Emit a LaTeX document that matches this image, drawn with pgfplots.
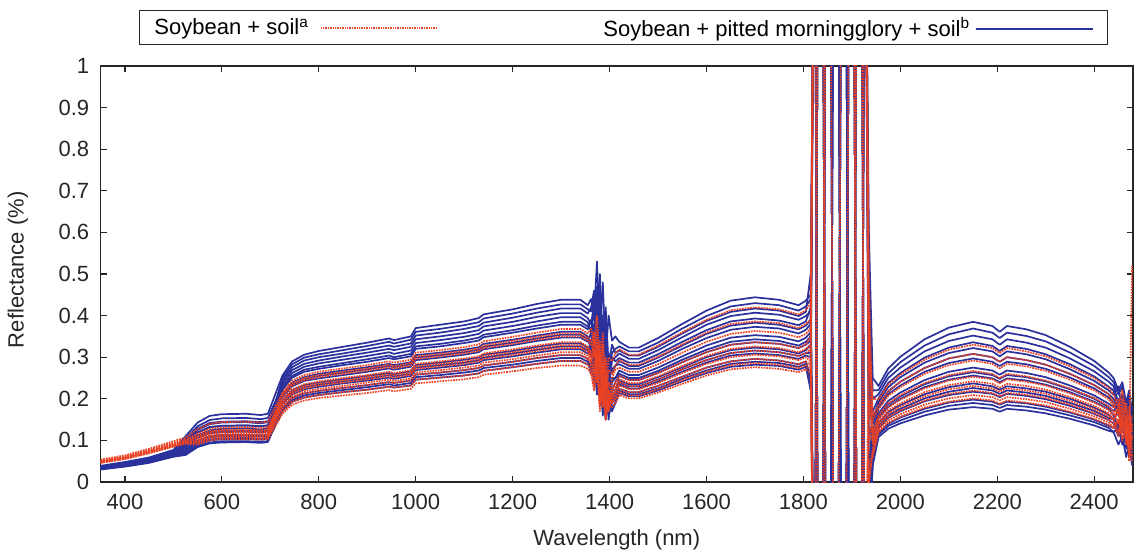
\documentclass[border=0pt]{standalone}
\usepackage{fontspec}
\setmainfont{Liberation Sans}
\usepackage{pgfplots}
\usepackage{pgfplotstable}
\pgfplotsset{compat=1.18}
\definecolor{redA}{RGB}{236,66,36}
\definecolor{blueA}{RGB}{42,48,156}
\newcommand{\redsample}{\textcolor{redA}{\leaders\hbox to 2.4pt{\hss\rule[0.28em]{1.5pt}{1.7pt}\hss}\hskip 120pt}}
\newcommand{\bluesample}{\textcolor{blueA}{\rule[0.3em]{117pt}{1.6pt}}}
\pgfplotstableread{
x b1 b2 b3 b4 b5 b6 b7 b8 b9 b10
350 0.039 0.035 0.037 0.033 0.036 0.031 0.034 0.030 0.032 0.031
400 0.048 0.044 0.046 0.041 0.045 0.039 0.042 0.037 0.040 0.038
450 0.059 0.054 0.057 0.051 0.055 0.048 0.053 0.046 0.050 0.047
500 0.077 0.070 0.075 0.067 0.072 0.063 0.069 0.061 0.065 0.061
525 0.110 0.092 0.104 0.082 0.097 0.070 0.087 0.065 0.077 0.066
550 0.143 0.119 0.134 0.106 0.125 0.090 0.112 0.084 0.099 0.086
575 0.159 0.132 0.149 0.117 0.139 0.100 0.124 0.093 0.110 0.095
600 0.163 0.135 0.153 0.120 0.143 0.103 0.128 0.095 0.113 0.098
650 0.164 0.136 0.154 0.121 0.144 0.103 0.129 0.096 0.113 0.098
680 0.161 0.134 0.151 0.119 0.141 0.102 0.126 0.094 0.112 0.097
695 0.164 0.136 0.154 0.121 0.144 0.103 0.129 0.096 0.113 0.098
710 0.210 0.190 0.193 0.171 0.178 0.153 0.162 0.141 0.146 0.134
725 0.256 0.244 0.232 0.221 0.211 0.203 0.195 0.187 0.178 0.170
745 0.290 0.276 0.262 0.251 0.239 0.230 0.220 0.211 0.202 0.193
770 0.306 0.292 0.277 0.265 0.252 0.243 0.233 0.223 0.213 0.203
800 0.315 0.300 0.285 0.272 0.260 0.249 0.239 0.229 0.219 0.209
850 0.325 0.309 0.294 0.281 0.268 0.257 0.247 0.237 0.226 0.216
900 0.335 0.319 0.303 0.289 0.276 0.265 0.255 0.244 0.233 0.222
945 0.345 0.328 0.312 0.298 0.284 0.273 0.262 0.251 0.240 0.229
955 0.341 0.325 0.308 0.295 0.281 0.270 0.259 0.248 0.238 0.227
990 0.350 0.333 0.316 0.302 0.288 0.277 0.266 0.255 0.244 0.232
1000 0.370 0.352 0.334 0.320 0.305 0.293 0.281 0.269 0.258 0.246
1050 0.378 0.359 0.341 0.326 0.311 0.299 0.287 0.275 0.263 0.251
1100 0.386 0.368 0.349 0.334 0.318 0.306 0.294 0.281 0.269 0.256
1130 0.394 0.375 0.356 0.340 0.324 0.312 0.299 0.287 0.274 0.261
1140 0.403 0.383 0.364 0.348 0.332 0.319 0.306 0.293 0.280 0.267
1200 0.415 0.395 0.375 0.359 0.342 0.329 0.315 0.302 0.289 0.276
1250 0.428 0.407 0.386 0.369 0.352 0.339 0.325 0.311 0.298 0.284
1300 0.438 0.417 0.396 0.378 0.361 0.347 0.333 0.319 0.305 0.291
1340 0.438 0.417 0.396 0.378 0.361 0.347 0.333 0.319 0.305 0.291
1355 0.425 0.405 0.384 0.367 0.350 0.337 0.323 0.309 0.296 0.282
1362 0.44 0.42 0.36 0.39 0.33 0.36 0.30 0.32 0.27 0.29
1368 0.40 0.46 0.41 0.33 0.38 0.30 0.35 0.27 0.31 0.24
1374 0.53 0.38 0.33 0.47 0.29 0.42 0.26 0.36 0.23 0.31
1380 0.36 0.50 0.45 0.30 0.41 0.26 0.38 0.22 0.33 0.19
1386 0.48 0.33 0.27 0.40 0.24 0.35 0.20 0.30 0.17 0.26
1392 0.30 0.42 0.38 0.20 0.33 0.16 0.29 0.15 0.25 0.15
1398 0.40 0.28 0.22 0.31 0.17 0.26 0.15 0.23 0.16 0.20
1405 0.34 0.33 0.30 0.26 0.25 0.22 0.22 0.19 0.19 0.17
1412 0.35 0.31 0.29 0.28 0.25 0.24 0.22 0.21 0.20 0.19
1420 0.337 0.316 0.298 0.283 0.268 0.255 0.245 0.235 0.224 0.214
1440 0.323 0.304 0.287 0.272 0.257 0.245 0.235 0.225 0.216 0.206
1460 0.323 0.304 0.287 0.272 0.257 0.245 0.235 0.225 0.216 0.206
1500 0.346 0.325 0.307 0.291 0.275 0.262 0.252 0.241 0.231 0.220
1550 0.380 0.357 0.337 0.320 0.302 0.288 0.276 0.265 0.253 0.242
1600 0.412 0.387 0.365 0.346 0.328 0.312 0.300 0.287 0.275 0.262
1650 0.436 0.409 0.386 0.366 0.347 0.330 0.317 0.304 0.290 0.277
1700 0.444 0.417 0.393 0.373 0.353 0.336 0.323 0.309 0.296 0.282
1750 0.438 0.412 0.388 0.369 0.349 0.332 0.319 0.305 0.292 0.279
1790 0.425 0.399 0.377 0.357 0.338 0.322 0.309 0.296 0.283 0.270
1805 0.436 0.409 0.386 0.366 0.347 0.330 0.317 0.304 0.290 0.277
1815 0.45 0.5 0.42 0.38 0.36 0.34 0.33 0.30 0.25 0.22
1823 1.6 -0.5 -0.5 1.6 -0.5 1.6 -0.5 1.6 -0.5 1.6
1831 1.6 -0.5 1.6 -0.5 -0.5 1.6 1.6 1.6 -0.5 -0.5
1839 1.6 -0.5 1.6 -0.5 -0.5 1.6 1.6 1.6 -0.5 -0.5
1847 -0.5 1.6 1.6 -0.5 -0.5 1.6 -0.5 1.6 1.6 -0.5
1855 -0.5 1.6 1.6 -0.5 -0.5 1.6 -0.5 1.6 1.6 -0.5
1863 -0.5 1.6 -0.5 1.6 1.6 -0.5 -0.5 1.6 1.6 -0.5
1871 -0.5 1.6 -0.5 1.6 1.6 -0.5 -0.5 1.6 1.6 -0.5
1879 1.6 1.6 -0.5 1.6 1.6 -0.5 1.6 -0.5 -0.5 1.6
1887 1.6 1.6 -0.5 1.6 1.6 -0.5 1.6 -0.5 -0.5 1.6
1895 1.6 -0.5 1.6 -0.5 1.6 1.6 1.6 -0.5 -0.5 1.6
1903 1.6 -0.5 1.6 -0.5 1.6 1.6 1.6 -0.5 -0.5 1.6
1911 -0.5 -0.5 1.6 -0.5 1.6 -0.5 1.6 -0.5 1.6 -0.5
1919 -0.5 -0.5 1.6 -0.5 1.6 -0.5 1.6 -0.5 1.6 -0.5
1927 1.6 1.6 1.6 -0.5 1.6 1.6 -0.5 -0.5 1.6 -0.5
1935 0.6 0.3 0.1 -0.2 0.5 0.05 -0.3 0.0 0.4 -0.1
1943 0.25 0.2 0.15 0.12 0.1 0.1 0.08 0.07 0.05 0.04
1955 0.231 0.211 0.193 0.178 0.165 0.153 0.142 0.130 0.119 0.108
1975 0.273 0.250 0.228 0.211 0.195 0.181 0.168 0.154 0.140 0.128
2000 0.301 0.275 0.252 0.232 0.215 0.200 0.185 0.170 0.155 0.141
2050 0.343 0.314 0.287 0.265 0.245 0.228 0.211 0.194 0.176 0.160
2100 0.371 0.339 0.310 0.286 0.265 0.246 0.228 0.209 0.191 0.174
2150 0.385 0.352 0.322 0.297 0.275 0.256 0.237 0.217 0.198 0.180
2190 0.375 0.343 0.314 0.289 0.268 0.249 0.230 0.212 0.193 0.176
2205 0.361 0.330 0.302 0.279 0.258 0.240 0.222 0.204 0.186 0.169
2220 0.375 0.343 0.314 0.289 0.268 0.249 0.230 0.212 0.193 0.176
2260 0.367 0.335 0.307 0.283 0.262 0.244 0.225 0.207 0.189 0.172
2300 0.353 0.323 0.295 0.272 0.252 0.234 0.217 0.199 0.181 0.165
2350 0.325 0.297 0.271 0.251 0.232 0.216 0.200 0.183 0.167 0.152
2400 0.291 0.266 0.243 0.225 0.208 0.193 0.179 0.164 0.150 0.136
2430 0.263 0.241 0.220 0.203 0.188 0.175 0.162 0.149 0.135 0.123
2440 0.25 0.23 0.21 0.19 0.18 0.16 0.15 0.14 0.13 0.12
2450 0.22 0.19 0.23 0.16 0.20 0.13 0.17 0.11 0.14 0.09
2458 0.24 0.21 0.17 0.20 0.14 0.17 0.12 0.14 0.10 0.11
2466 0.19 0.16 0.20 0.13 0.18 0.10 0.15 0.08 0.12 0.06
2472 0.22 0.20 0.14 0.17 0.11 0.15 0.09 0.12 0.07 0.09
2478 0.17 0.12 0.18 0.09 0.15 0.07 0.12 0.05 0.09 0.04
}\bluetab
\pgfplotstableread{
x b11 b12 b13 b14 b15 b16
350 0.034 0.035 0.032 0.036 0.032 0.032
400 0.042 0.044 0.040 0.045 0.039 0.040
450 0.052 0.054 0.050 0.056 0.048 0.049
500 0.067 0.070 0.065 0.073 0.063 0.064
525 0.083 0.092 0.077 0.099 0.071 0.075
550 0.108 0.119 0.099 0.128 0.092 0.097
575 0.120 0.132 0.110 0.142 0.102 0.107
600 0.123 0.135 0.113 0.145 0.105 0.110
650 0.123 0.136 0.113 0.146 0.106 0.111
680 0.122 0.134 0.112 0.144 0.104 0.109
695 0.123 0.136 0.113 0.146 0.106 0.111
710 0.187 0.181 0.160 0.169 0.140 0.175
725 0.250 0.226 0.207 0.191 0.174 0.238
745 0.283 0.255 0.234 0.216 0.197 0.269
770 0.299 0.270 0.247 0.228 0.208 0.284
800 0.307 0.277 0.255 0.234 0.214 0.292
850 0.317 0.286 0.263 0.242 0.221 0.302
900 0.327 0.295 0.271 0.249 0.228 0.311
945 0.337 0.304 0.279 0.257 0.235 0.320
955 0.333 0.300 0.276 0.254 0.232 0.317
990 0.342 0.308 0.283 0.260 0.238 0.325
1000 0.361 0.326 0.299 0.275 0.252 0.343
1050 0.368 0.332 0.305 0.281 0.257 0.350
1100 0.377 0.340 0.312 0.287 0.263 0.358
1130 0.384 0.347 0.318 0.293 0.268 0.365
1140 0.393 0.354 0.325 0.299 0.274 0.374
1200 0.405 0.365 0.335 0.309 0.282 0.385
1250 0.417 0.376 0.345 0.318 0.291 0.397
1300 0.427 0.385 0.354 0.326 0.298 0.406
1340 0.427 0.385 0.354 0.326 0.298 0.406
1355 0.415 0.374 0.343 0.316 0.289 0.394
1362 0.41 0.37 0.32 0.33 0.26 0.38
1368 0.45 0.34 0.37 0.28 0.29 0.43
1374 0.37 0.44 0.28 0.39 0.21 0.34
1380 0.47 0.29 0.39 0.24 0.27 0.46
1386 0.31 0.38 0.22 0.32 0.16 0.29
1392 0.40 0.21 0.31 0.17 0.22 0.37
1398 0.25 0.29 0.18 0.25 0.17 0.24
1405 0.31 0.27 0.24 0.20 0.18 0.29
1412 0.32 0.28 0.25 0.22 0.19 0.30
1420 0.326 0.291 0.260 0.240 0.219 0.309
1440 0.314 0.279 0.250 0.230 0.211 0.296
1460 0.314 0.279 0.250 0.230 0.211 0.296
1500 0.335 0.299 0.267 0.246 0.225 0.317
1550 0.369 0.328 0.294 0.271 0.248 0.348
1600 0.399 0.356 0.318 0.293 0.268 0.378
1650 0.422 0.376 0.337 0.310 0.284 0.399
1700 0.430 0.383 0.343 0.316 0.289 0.407
1750 0.425 0.378 0.339 0.312 0.286 0.402
1790 0.412 0.367 0.328 0.303 0.277 0.390
1805 0.422 0.376 0.337 0.310 0.284 0.399
1815 0.44 0.39 0.35 0.31 0.24 0.41
1823 1.6 -0.5 1.6 -0.5 1.6 -0.5
1831 1.6 1.6 -0.5 -0.5 1.6 1.6
1839 1.6 1.6 -0.5 -0.5 1.6 1.6
1847 -0.5 1.6 1.6 1.6 -0.5 1.6
1855 -0.5 1.6 1.6 1.6 -0.5 1.6
1863 1.6 1.6 1.6 -0.5 -0.5 -0.5
1871 1.6 1.6 1.6 -0.5 -0.5 -0.5
1879 1.6 -0.5 1.6 -0.5 -0.5 1.6
1887 1.6 -0.5 1.6 -0.5 -0.5 1.6
1895 -0.5 1.6 -0.5 1.6 1.6 1.6
1903 -0.5 1.6 -0.5 1.6 1.6 1.6
1911 1.6 -0.5 1.6 1.6 1.6 -0.5
1919 1.6 -0.5 1.6 1.6 1.6 -0.5
1927 1.6 1.6 -0.5 1.6 -0.5 -0.5
1935 0.4 0.2 -0.1 0.3 -0.2 0.0
1943 0.22 0.14 0.09 0.07 0.05 0.17
1955 0.221 0.185 0.158 0.135 0.114 0.201
1975 0.261 0.218 0.187 0.160 0.135 0.238
2000 0.288 0.241 0.206 0.176 0.148 0.262
2050 0.328 0.274 0.235 0.201 0.169 0.299
2100 0.355 0.297 0.254 0.217 0.183 0.323
2150 0.369 0.308 0.264 0.226 0.190 0.336
2190 0.359 0.300 0.257 0.220 0.185 0.327
2205 0.346 0.289 0.248 0.212 0.178 0.315
2220 0.359 0.300 0.257 0.220 0.185 0.327
2260 0.351 0.293 0.252 0.215 0.181 0.320
2300 0.338 0.282 0.242 0.207 0.174 0.307
2350 0.311 0.260 0.223 0.190 0.160 0.283
2400 0.279 0.233 0.200 0.171 0.144 0.254
2430 0.252 0.211 0.180 0.154 0.130 0.229
2440 0.24 0.20 0.17 0.15 0.12 0.22
2450 0.21 0.17 0.19 0.12 0.13 0.18
2458 0.23 0.21 0.13 0.15 0.09 0.21
2466 0.18 0.15 0.16 0.10 0.11 0.16
2472 0.21 0.19 0.10 0.13 0.06 0.19
2478 0.15 0.11 0.13 0.07 0.08 0.10
}\bluetabB
\pgfplotstableread{
x r1 r2 r3 r4 r5 r6
350 0.054 0.048 0.051 0.047 0.050 0.046
400 0.064 0.058 0.061 0.056 0.059 0.055
450 0.080 0.072 0.077 0.070 0.074 0.069
500 0.098 0.088 0.094 0.086 0.091 0.085
525 0.107 0.096 0.102 0.093 0.099 0.092
550 0.127 0.101 0.116 0.094 0.108 0.090
575 0.140 0.112 0.128 0.104 0.120 0.100
600 0.144 0.115 0.131 0.106 0.123 0.103
650 0.145 0.116 0.132 0.107 0.123 0.103
680 0.143 0.114 0.130 0.105 0.122 0.102
695 0.145 0.116 0.132 0.107 0.123 0.103
710 0.180 0.160 0.165 0.148 0.151 0.134
725 0.215 0.205 0.197 0.189 0.178 0.164
745 0.244 0.232 0.223 0.213 0.202 0.186
770 0.257 0.245 0.235 0.225 0.213 0.196
800 0.265 0.252 0.242 0.232 0.219 0.202
850 0.273 0.260 0.250 0.239 0.226 0.208
900 0.281 0.268 0.257 0.247 0.233 0.214
945 0.290 0.276 0.265 0.254 0.240 0.221
955 0.287 0.273 0.262 0.251 0.238 0.218
990 0.294 0.280 0.269 0.258 0.244 0.224
1000 0.311 0.296 0.284 0.272 0.258 0.237
1050 0.317 0.302 0.290 0.278 0.263 0.242
1100 0.324 0.309 0.297 0.284 0.269 0.247
1130 0.331 0.315 0.302 0.290 0.274 0.252
1140 0.338 0.322 0.309 0.296 0.280 0.258
1200 0.349 0.332 0.319 0.305 0.289 0.266
1250 0.359 0.342 0.328 0.315 0.298 0.274
1300 0.368 0.350 0.336 0.322 0.305 0.280
1340 0.368 0.350 0.336 0.322 0.305 0.280
1355 0.357 0.340 0.326 0.313 0.296 0.272
1362 0.37 0.33 0.31 0.29 0.28 0.26
1368 0.33 0.36 0.27 0.32 0.25 0.22
1374 0.40 0.28 0.33 0.24 0.30 0.27
1380 0.28 0.34 0.20 0.30 0.19 0.17
1386 0.36 0.22 0.29 0.18 0.27 0.24
1392 0.22 0.30 0.16 0.26 0.16 0.15
1398 0.30 0.18 0.24 0.17 0.21 0.19
1405 0.29 0.25 0.22 0.21 0.19 0.18
1412 0.31 0.27 0.24 0.22 0.21 0.19
1420 0.319 0.275 0.255 0.240 0.224 0.209
1440 0.306 0.265 0.245 0.230 0.216 0.201
1460 0.306 0.265 0.245 0.230 0.216 0.201
1500 0.328 0.283 0.262 0.246 0.231 0.215
1550 0.360 0.311 0.288 0.271 0.253 0.236
1600 0.390 0.337 0.312 0.293 0.275 0.256
1650 0.413 0.356 0.330 0.310 0.290 0.271
1700 0.420 0.363 0.336 0.316 0.296 0.276
1750 0.415 0.359 0.332 0.312 0.292 0.272
1790 0.403 0.348 0.322 0.303 0.283 0.264
1805 0.413 0.356 0.330 0.310 0.290 0.271
1815 0.43 0.37 0.35 0.32 0.28 0.26
1823 1.6 -0.5 1.6 -0.5 -0.5 -0.5
1831 1.6 -0.5 1.6 -0.5 1.6 -0.5
1839 1.6 -0.5 1.6 -0.5 1.6 -0.5
1847 1.6 -0.5 -0.5 -0.5 1.6 -0.5
1855 1.6 -0.5 -0.5 -0.5 1.6 -0.5
1863 -0.5 -0.5 -0.5 -0.5 1.6 -0.5
1871 -0.5 -0.5 -0.5 -0.5 1.6 -0.5
1879 -0.5 1.6 -0.5 -0.5 1.6 -0.5
1887 -0.5 1.6 -0.5 -0.5 1.6 -0.5
1895 -0.5 1.6 -0.5 1.6 1.6 -0.5
1903 -0.5 1.6 -0.5 1.6 1.6 -0.5
1911 -0.5 1.6 -0.5 1.6 -0.5 -0.5
1919 -0.5 1.6 -0.5 1.6 -0.5 -0.5
1927 1.6 -0.5 -0.5 1.6 -0.5 -0.5
1935 0.3 0.1 0.2 0.5 0.0 0.05
1943 0.2 0.15 0.12 0.1 0.08 0.06
1955 0.198 0.175 0.160 0.145 0.132 0.120
1975 0.234 0.207 0.189 0.172 0.156 0.142
2000 0.258 0.228 0.209 0.189 0.172 0.157
2050 0.294 0.260 0.238 0.216 0.196 0.179
2100 0.318 0.281 0.257 0.233 0.212 0.193
2150 0.330 0.292 0.267 0.242 0.220 0.201
2190 0.322 0.284 0.260 0.236 0.214 0.196
2205 0.310 0.273 0.250 0.227 0.206 0.188
2220 0.322 0.284 0.260 0.236 0.214 0.196
2260 0.314 0.278 0.254 0.231 0.210 0.191
2300 0.302 0.267 0.244 0.222 0.202 0.184
2350 0.278 0.246 0.225 0.204 0.186 0.169
2400 0.250 0.220 0.202 0.183 0.166 0.152
2430 0.226 0.199 0.182 0.165 0.150 0.137
2440 0.21 0.18 0.17 0.15 0.14 0.13
2450 0.18 0.20 0.14 0.17 0.11 0.15
2458 0.22 0.15 0.18 0.12 0.15 0.11
2466 0.17 0.19 0.12 0.14 0.09 0.12
2472 0.05 0.12 0.16 0.08 0.13 0.07
2478 0.52 0.16 0.10 0.11 0.06 0.05
}\redtab
\pgfplotstableread{
x r7 r8 r9 r10
350 0.050 0.049 0.048 0.047
400 0.060 0.058 0.057 0.056
450 0.075 0.073 0.071 0.071
500 0.092 0.089 0.087 0.086
525 0.100 0.097 0.095 0.094
550 0.110 0.105 0.099 0.097
575 0.122 0.116 0.110 0.107
600 0.125 0.119 0.113 0.110
650 0.126 0.120 0.113 0.111
680 0.124 0.118 0.112 0.109
695 0.126 0.120 0.113 0.111
710 0.168 0.156 0.148 0.140
725 0.209 0.193 0.182 0.170
745 0.237 0.218 0.206 0.193
770 0.250 0.230 0.218 0.203
800 0.257 0.237 0.224 0.209
850 0.265 0.244 0.231 0.216
900 0.273 0.252 0.239 0.222
945 0.282 0.259 0.246 0.229
955 0.278 0.257 0.243 0.227
990 0.286 0.263 0.249 0.232
1000 0.302 0.278 0.263 0.246
1050 0.308 0.284 0.269 0.251
1100 0.315 0.290 0.275 0.256
1130 0.321 0.296 0.280 0.261
1140 0.328 0.303 0.287 0.267
1200 0.339 0.312 0.295 0.276
1250 0.349 0.321 0.304 0.284
1300 0.357 0.329 0.312 0.291
1340 0.357 0.329 0.312 0.291
1355 0.347 0.320 0.303 0.282
1362 0.34 0.30 0.29 0.27
1368 0.30 0.34 0.26 0.23
1374 0.36 0.26 0.31 0.29
1380 0.25 0.31 0.20 0.18
1386 0.33 0.19 0.28 0.25
1392 0.19 0.27 0.17 0.16
1398 0.27 0.17 0.22 0.20
1405 0.26 0.22 0.20 0.19
1412 0.28 0.23 0.22 0.20
1420 0.293 0.247 0.232 0.217
1440 0.282 0.238 0.223 0.208
1460 0.282 0.238 0.223 0.208
1500 0.301 0.254 0.238 0.223
1550 0.331 0.279 0.262 0.245
1600 0.359 0.303 0.284 0.265
1650 0.380 0.320 0.300 0.281
1700 0.386 0.326 0.306 0.286
1750 0.382 0.322 0.302 0.282
1790 0.370 0.312 0.293 0.274
1805 0.380 0.320 0.300 0.281
1815 0.39 0.33 0.29 0.27
1823 1.6 -0.5 -0.5 1.6
1831 1.6 -0.5 -0.5 -0.5
1839 1.6 -0.5 -0.5 -0.5
1847 1.6 1.6 -0.5 -0.5
1855 1.6 1.6 -0.5 -0.5
1863 1.6 1.6 -0.5 -0.5
1871 1.6 1.6 -0.5 -0.5
1879 1.6 1.6 -0.5 -0.5
1887 1.6 1.6 -0.5 -0.5
1895 1.6 1.6 -0.5 -0.5
1903 1.6 1.6 -0.5 -0.5
1911 -0.5 1.6 1.6 -0.5
1919 -0.5 1.6 1.6 -0.5
1927 -0.5 1.6 1.6 -0.5
1935 0.4 0.1 0.3 0.0
1943 0.16 0.11 0.09 0.07
1955 0.185 0.152 0.139 0.125
1975 0.218 0.179 0.164 0.148
2000 0.241 0.198 0.181 0.163
2050 0.274 0.225 0.206 0.186
2100 0.297 0.244 0.223 0.201
2150 0.308 0.253 0.231 0.209
2190 0.300 0.247 0.225 0.204
2205 0.289 0.237 0.217 0.196
2220 0.300 0.247 0.225 0.204
2260 0.293 0.241 0.220 0.199
2300 0.282 0.232 0.212 0.192
2350 0.260 0.213 0.195 0.176
2400 0.233 0.191 0.175 0.158
2430 0.211 0.173 0.158 0.143
2440 0.19 0.16 0.15 0.13
2450 0.16 0.18 0.12 0.15
2458 0.20 0.13 0.16 0.10
2466 0.14 0.16 0.10 0.13
2472 0.18 0.10 0.14 0.08
2478 0.12 0.14 0.08 0.06
}\redtabB
\begin{document}
\begin{tikzpicture}
\useasboundingbox (0,0) rectangle (1134pt,555pt);
\begin{axis}[
  at={(100.7pt,73pt)}, anchor=south west,
  scale only axis, width=1032.3pt, height=416pt,
  xmin=350, xmax=2480, ymin=0, ymax=1,
  xtick={400,600,800,1000,1200,1400,1600,1800,2000,2200,2400},
  ytick={0,0.1,0.2,0.3,0.4,0.5,0.6,0.7,0.8,0.9,1},
  /pgf/number format/assume math mode=true,
  /pgf/number format/1000 sep={},
  tick label style={font=\fontsize{22}{26}\selectfont, text=black!85},
  xticklabel style={yshift=-9pt},
  yticklabel style={xshift=-8pt},
  axis line style={line width=1.2pt, draw=black!85},
  tick style={line width=1.2pt, draw=black!85},
  major tick length=6pt,
  xlabel={Wavelength (nm)},
  ylabel={Reflectance (\%)},
  every axis x label/.style={at={(axis description cs:0.5,0)}, anchor=center, yshift=-58pt, font=\fontsize{22}{26}\selectfont, text=black!85},
  every axis y label/.style={at={(axis description cs:-0.0801,0.51)}, anchor=center, rotate=90, font=\fontsize{22}{26}\selectfont, text=black!85},
  legend columns=2,
  legend plot pos=none,
  legend style={at={(axis description cs:0.0371,1.1346)}, anchor=north west,
    draw=black!85, line width=1pt, inner xsep=13pt, inner ysep=5pt,
    font=\fontsize{22}{26}\selectfont,
    /tikz/every odd column/.append style={column sep=161pt}},
  redline/.style={draw=redA, densely dotted, line width=1.7pt, line join=round},
  blueline/.style={draw=blueA, line width=1.7pt, line join=round},
]
\addlegendimage{empty legend}
\addlegendentry{Soybean + soil\textsuperscript{a}\hspace{10pt}\redsample}
\addlegendimage{empty legend}
\addlegendentry{Soybean + pitted morningglory + soil\textsuperscript{b}\hspace{6pt}\bluesample\hspace{18pt}}
\addplot[blueline, forget plot] table[x=x, y=b1] {\bluetab};
\addplot[blueline, forget plot] table[x=x, y=b2] {\bluetab};
\addplot[blueline, forget plot] table[x=x, y=b3] {\bluetab};
\addplot[blueline, forget plot] table[x=x, y=b4] {\bluetab};
\addplot[blueline, forget plot] table[x=x, y=b5] {\bluetab};
\addplot[blueline, forget plot] table[x=x, y=b6] {\bluetab};
\addplot[blueline, forget plot] table[x=x, y=b7] {\bluetab};
\addplot[blueline, forget plot] table[x=x, y=b8] {\bluetab};
\addplot[blueline, forget plot] table[x=x, y=b9] {\bluetab};
\addplot[blueline, forget plot] table[x=x, y=b10] {\bluetab};
\addplot[blueline, forget plot] table[x=x, y=b11] {\bluetabB};
\addplot[blueline, forget plot] table[x=x, y=b12] {\bluetabB};
\addplot[blueline, forget plot] table[x=x, y=b13] {\bluetabB};
\addplot[blueline, forget plot] table[x=x, y=b14] {\bluetabB};
\addplot[blueline, forget plot] table[x=x, y=b15] {\bluetabB};
\addplot[blueline, forget plot] table[x=x, y=b16] {\bluetabB};
\addplot[redline, forget plot] table[x=x, y=r1] {\redtab};
\addplot[redline, forget plot] table[x=x, y=r2] {\redtab};
\addplot[redline, forget plot] table[x=x, y=r3] {\redtab};
\addplot[redline, forget plot] table[x=x, y=r4] {\redtab};
\addplot[redline, forget plot] table[x=x, y=r5] {\redtab};
\addplot[redline, forget plot] table[x=x, y=r6] {\redtab};
\addplot[redline, forget plot] table[x=x, y=r7] {\redtabB};
\addplot[redline, forget plot] table[x=x, y=r8] {\redtabB};
\addplot[redline, forget plot] table[x=x, y=r9] {\redtabB};
\addplot[redline, forget plot] table[x=x, y=r10] {\redtabB};
\end{axis}
\end{tikzpicture}
\end{document}
